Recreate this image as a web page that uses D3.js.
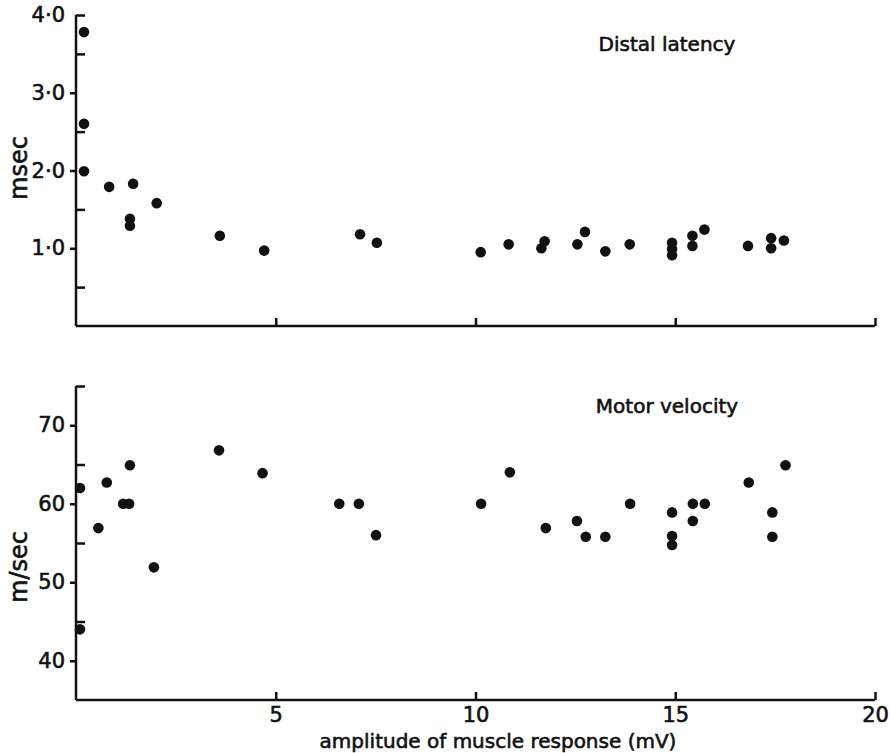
<!DOCTYPE html>
<html>
<head>
<meta charset="utf-8">
<script src="https://cdn.jsdelivr.net/npm/d3@7"></script>
<style>
  body { margin: 0; background: #fff; }
  svg text { font-family: "DejaVu Sans", sans-serif; fill: #111; stroke: #111; stroke-width: 0.6px; }
</style>
</head>
<body>
<div id="chart"></div>
<script>
// amplitude of muscle response (mV)
var latencyX = [0.2, 0.2, 0.2, 0.83, 1.43, 1.35, 1.35, 2.02, 3.6, 4.71, 7.11, 7.53, 10.13, 10.83,
  11.73, 11.65, 12.74, 12.55, 13.25, 13.86, 14.92, 14.92, 14.92, 15.43, 15.43, 15.73, 16.82, 17.4, 17.4, 17.72]
var latencyY = [3.78, 2.60, 1.99, 1.79, 1.83, 1.38, 1.29, 1.58, 1.16, 0.97, 1.18, 1.07, 0.95, 1.05,
  1.09, 1.00, 1.21, 1.05, 0.96, 1.05, 1.07, 0.99, 0.91, 1.16, 1.03, 1.24, 1.03, 1.13, 1.00, 1.10]

var velocityX = [0.1, 0.1, 0.56, 0.77, 1.18, 1.33, 1.35, 1.95, 3.58, 4.67, 6.59, 7.08, 7.51, 10.14, 10.86,
  11.76, 12.54, 12.76, 13.25, 13.87, 14.92, 14.92, 14.92, 15.44, 15.44, 15.74, 16.84, 17.43, 17.43, 17.76]
var velocityY = [62.0, 44.0, 56.9, 62.7, 60, 60, 64.9, 51.9, 66.8, 63.9, 60, 60, 56.0, 60, 64,
  56.9, 57.8, 55.8, 55.8, 60, 58.9, 55.9, 54.75, 60, 57.8, 60, 62.7, 58.9, 55.8, 64.9]

var xTicks = [5, 10, 15, 20]
var latencyTicks = [0.5, 1, 1.5, 2, 2.5, 3, 3.5, 4]
var latencyLabels = { 1: '1·0', 2: '2·0', 3: '3·0', 4: '4·0' }
var velocityTicks = [40, 45, 50, 55, 60, 65, 70, 75]
var velocityLabels = { 40: '40', 50: '50', 60: '60', 70: '70' }

const svgWidth = 890
const svgHeight = 753

var svg = d3.select('#chart').append('svg')
  .attr('width', svgWidth)
  .attr('height', svgHeight)

const x = d3.scaleLinear().domain([0, 20]).range([76, 875])

function drawPanel(top, bottom, domain, xs, ys, ticks, labels, title, titleY, yTitle, yTitleY, showXLabels) {
  const y = d3.scaleLinear().domain(domain).range([bottom, top])
  const g = svg.append('g')

  const xAxis = d3.axisBottom(x).tickValues(xTicks).tickSizeInner(-8).tickSizeOuter(0)
    .tickPadding(7)
    .tickFormat(d => showXLabels ? d : '')
  const xg = g.append('g').attr('transform', `translate(0, ${bottom})`).call(xAxis)
  xg.select('.domain').attr('d', `M${x(0)},0H${x(20)}`)

  const yAxis = d3.axisLeft(y).tickValues(ticks).tickSizeOuter(0)
    .tickPadding(5)
    .tickFormat(d => labels[d] || '')
  const yg = g.append('g').attr('transform', `translate(${x(0)}, 0)`).call(yAxis)
  yg.select('.domain').attr('d', `M0,${y(domain[1])}V${bottom}`)
  // labelled ticks point out, the others point in
  yg.selectAll('.tick line')
    .attr('x2', d => (labels[d] && d !== domain[1]) ? -6 : 9)

  g.selectAll('.domain, .tick line')
    .attr('stroke', '#111')
    .attr('stroke-width', 2.5)
  g.selectAll('.tick text')
    .attr('font-size', 21)
    .attr('fill', '#111')
  xg.selectAll('.tick text').attr('dy', '0.72em')

  g.append('g').selectAll('circle')
    .data(xs)
    .enter()
    .append('circle')
    .attr('cx', d => x(d))
    .attr('cy', (d, i) => y(ys[i]))
    .attr('r', 5.3)
    .attr('fill', '#111')

  g.append('text')
    .attr('x', 667)
    .attr('y', titleY)
    .attr('text-anchor', 'middle')
    .attr('font-size', 20)
    .text(title)

  g.append('text')
    .attr('transform', `translate(27, ${yTitleY}) rotate(-90)`)
    .attr('text-anchor', 'middle')
    .attr('font-size', 24)
    .text(yTitle)
}

drawPanel(15, 326, [0, 4], latencyX, latencyY, latencyTicks, latencyLabels,
  'Distal latency', 51, 'msec', 168, false)
drawPanel(386, 700, [35, 75], velocityX, velocityY, velocityTicks, velocityLabels,
  'Motor velocity', 413, 'm/sec', 567, true)

svg.append('text')
  .attr('x', 498)
  .attr('y', 748)
  .attr('text-anchor', 'middle')
  .attr('font-size', 20)
  .text('amplitude of muscle response (mV)')
</script>
</body>
</html>
